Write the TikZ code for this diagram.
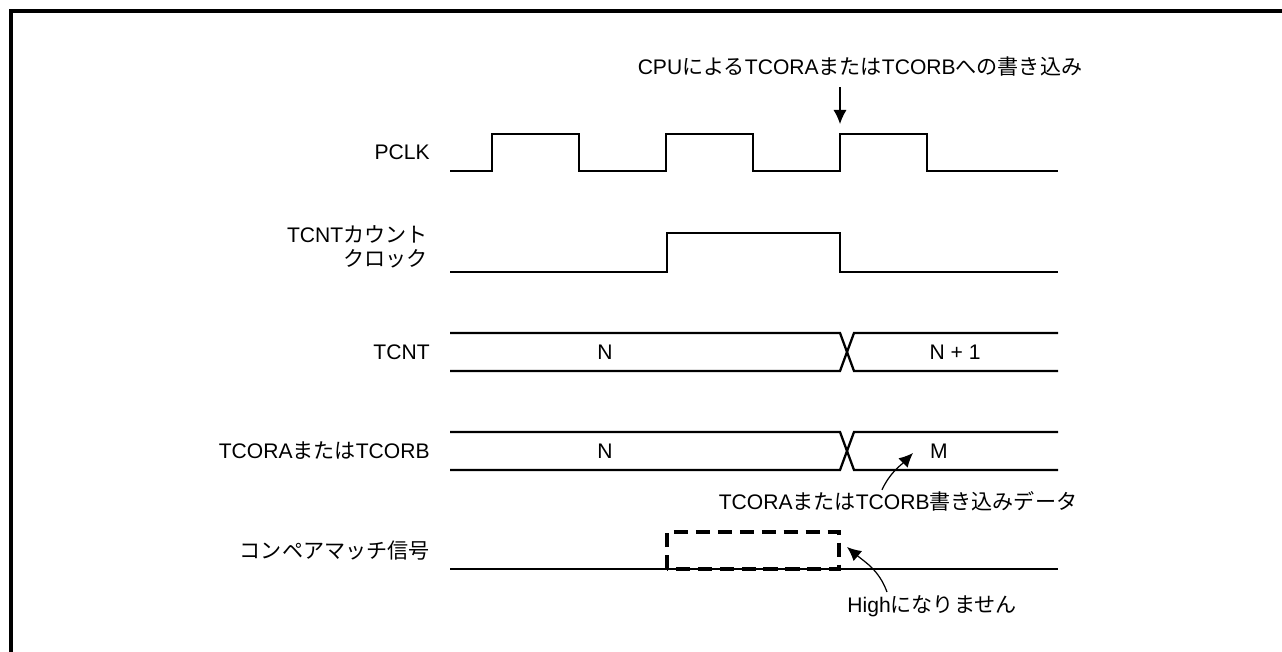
\documentclass[tikz,border=0pt]{standalone}
\usepackage{fontspec}
\setmainfont{Liberation Sans}
\newfontfamily\jpfont{Noto Sans CJK JP}
\newcommand{\jtxt}[1]{{\jpfont #1}}
\usetikzlibrary{calc, arrows.meta, positioning}
\tikzset{
  siglabel/.style={anchor=east,inner sep=0pt,align=right,font=\fontsize{12}{13.5}\selectfont},
  valtext/.style={inner sep=0pt,font=\fontsize{12}{13.5}\selectfont},
  sig/.style={line width=1.3pt,line join=miter},
  annarrow/.style={-{Latex[length=8pt,width=7.5pt]}, line width=0.7pt},
  nohighbox/.style={dashed,dash pattern=on 8pt off 4.5pt,line width=1.8pt}
}

\begin{document}
\begin{tikzpicture}[x=0.02cm,y=0.02cm]
  \useasboundingbox (0,0) rectangle (1282,-652);
  \draw[line width=2.4pt] (11,-652) -- (11,-11) -- (1282,-11);

  \node[siglabel] (pclk) at (430,-152) {PCLK};
  \node[siglabel] (cntclk) at (428,-247) {TCNT\jtxt{カウント}\\\jtxt{クロック}};
  \node[siglabel] (tcnt) at (430,-352) {TCNT};
  \node[siglabel] (tcor) at (430,-451) {TCORA\jtxt{または}TCORB};
  \node[siglabel] (cmp) at (430,-551) {\jtxt{コンペアマッチ信号}};

  \draw[sig] (450,-171) -| (492,-134) -| (579,-171) -| (666,-134) -| (753,-171)
    -| (840,-134) -| (927,-171) -- (1058,-171);
  \draw[sig] (450,-272) -| (667,-233) -| (840,-272) -- (1058,-272);
  \foreach \y in {333,432}{
    \draw[sig] (450,-\y) -- (840,-\y) -- (854,-\y-38) -- (1058,-\y-38);
    \draw[sig] (450,-\y-38) -- (840,-\y-38) -- (854,-\y) -- (1058,-\y);
  }
  \draw[sig] (450,-569) -- (1058,-569);
  \draw[nohighbox] (667,-569) rectangle (839,-532);

  \node[valtext] (tcntN) at (605,-352) {N};
  \node[valtext] (tcntN1) at (955,-352) {N + 1};
  \node[valtext] (tcorN) at (605,-451) {N};
  \node[valtext] (tcorM) at (939,-451) {M};

  \coordinate (wr) at (840,-124);
  \node[valtext] (cpuwr) at (860,-67) {CPU\jtxt{による}TCORA\jtxt{または}TCORB\jtxt{への書き込み}};
  \draw[annarrow] (cpuwr.south -| wr) ++(0,-10) -- (wr);

  \node[valtext] (wrdata) at (898,-501) {TCORA\jtxt{または}TCORB\jtxt{書き込みデータ}};
  \coordinate (mtip) at (913,-453);
  \draw[annarrow] ($(wrdata.north)+(-16,1)$) to[out=65,in=225] (mtip);

  \node[valtext] (nohigh) at (932,-606) {High\jtxt{になりません}};
  \coordinate (boxtip) at (847,-547);
  \draw[annarrow] ($(nohigh.north)+(-45,3)$) to[out=110,in=-40] (boxtip);
\end{tikzpicture}
\end{document}
